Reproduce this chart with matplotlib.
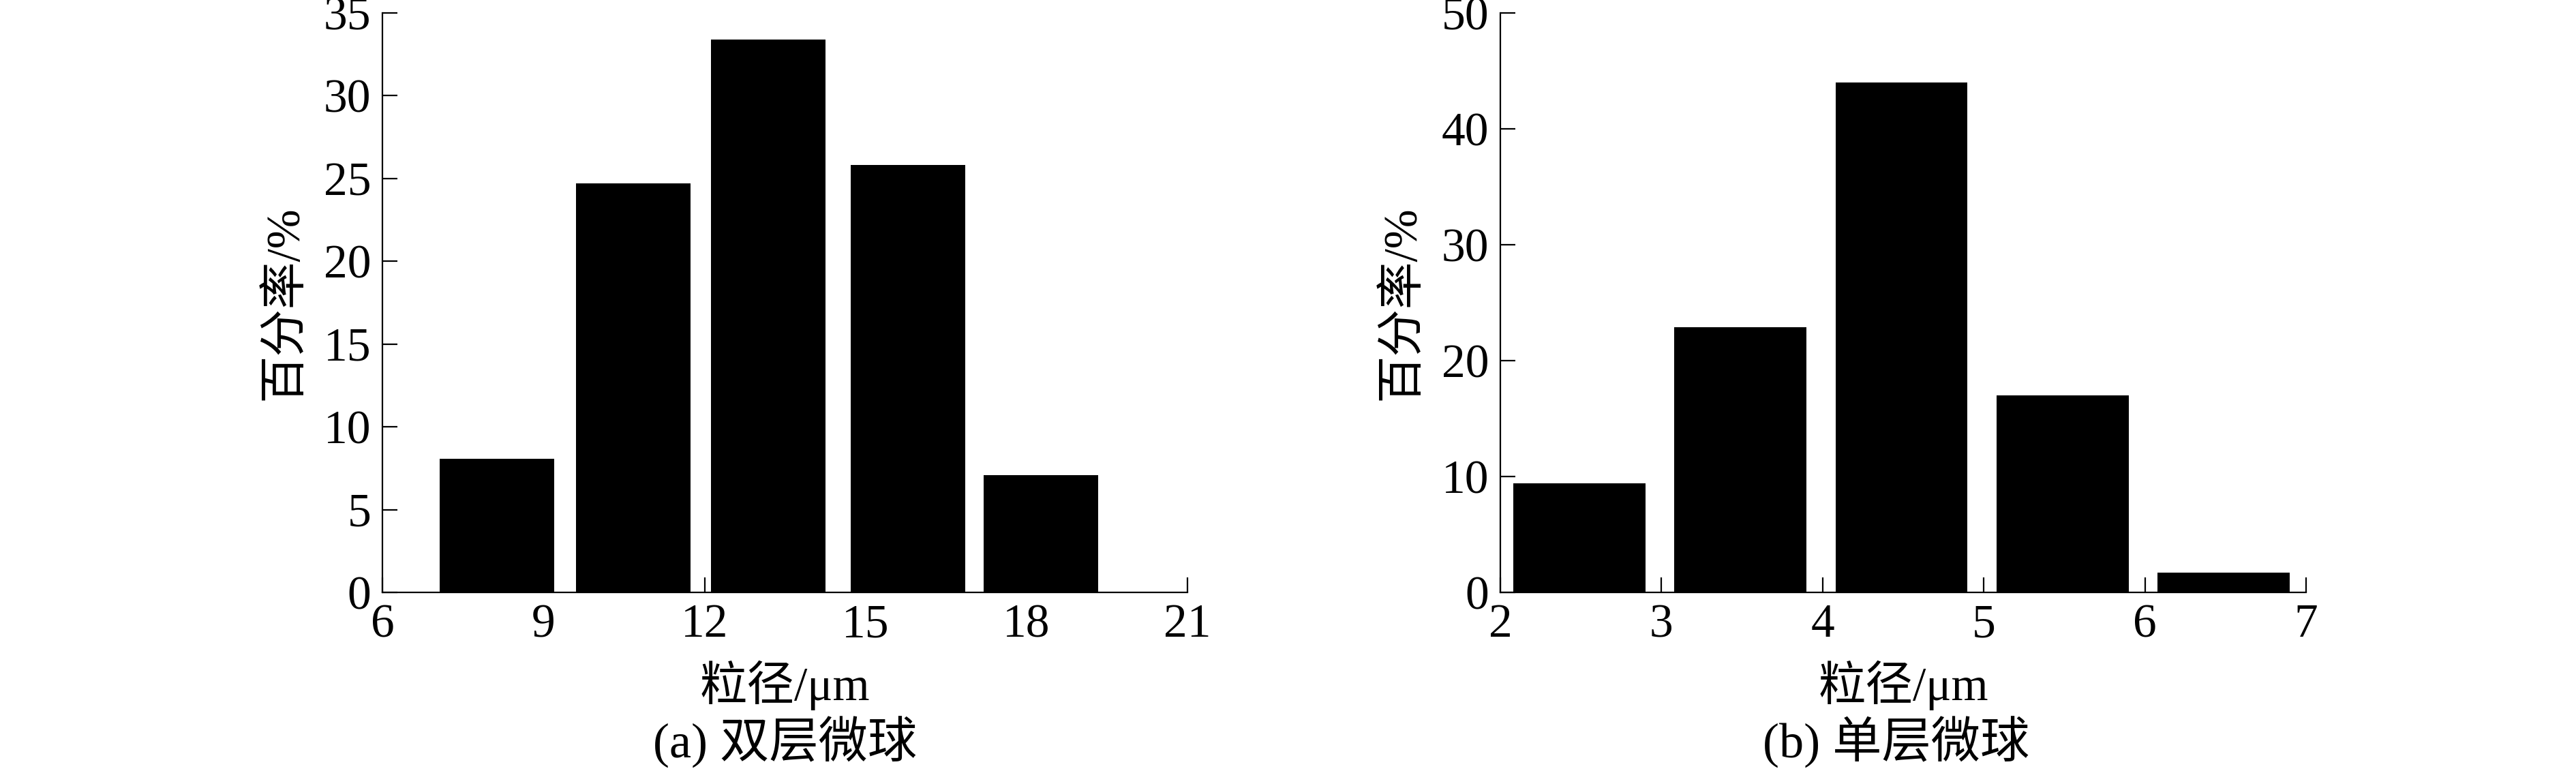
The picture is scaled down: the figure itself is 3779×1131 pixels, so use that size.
import numpy as np
import matplotlib
matplotlib.use('Agg')
import matplotlib.pyplot as plt

# Fontes: Times para números, CJK como reserva
plt.rcParams['font.family'] = ['Liberation Serif', 'Noto Sans CJK SC']
plt.rcParams['axes.unicode_minus'] = False

# Dados (a) 双层微球
centros_a = [8.13, 10.67, 13.19, 15.79, 18.27]
valores_a = [8.05, 24.7, 33.4, 25.8, 7.1]
largura_a = 2.13
ticks_x_a = [6, 9, 12, 15, 18, 21]
ticks_y_a = [0, 5, 10, 15, 20, 25, 30, 35]

# Dados (b) 单层微球
centros_b = [2.49, 3.49, 4.49, 5.49, 6.49]
valores_b = [9.4, 22.9, 44.0, 17.0, 1.7]
largura_b = 0.82
ticks_x_b = [2, 3, 4, 5, 6, 7]
ticks_y_b = [0, 10, 20, 30, 40, 50]

rotulo_x = '粒径/μm'
rotulo_y = '百分率/%'
legendas = ['(a) 双层微球', '(b) 单层微球']

fig = plt.figure(figsize=(37.79, 11.31), dpi=100)

ax1 = fig.add_axes([0.1485, 0.2317, 0.3125, 0.7515])
ax2 = fig.add_axes([0.5824, 0.2317, 0.3128, 0.7515])

config = [
    (ax1, centros_a, valores_a, largura_a, ticks_x_a, ticks_y_a),
    (ax2, centros_b, valores_b, largura_b, ticks_x_b, ticks_y_b),
]

for ax, centros, valores, largura, tx, ty in config:
    ax.bar(centros, valores, width=largura, color='black', zorder=3)
    ax.set_xlim(tx[0], tx[-1])
    ax.set_ylim(ty[0], ty[-1])
    ax.set_xticks(tx)
    ax.set_yticks(ty)
    ax.spines['top'].set_visible(False)
    ax.spines['right'].set_visible(False)
    for s in ['left', 'bottom']:
        ax.spines[s].set_linewidth(1.6)
    ax.tick_params(direction='in', length=16, width=1.6, labelsize=50, pad=12)
    ax.set_xlabel(rotulo_x, fontsize=50, labelpad=14)
    ax.set_ylabel(rotulo_y, fontsize=50)
    ax.yaxis.set_label_coords(-0.094, 0.5)

# Legendas abaixo de cada gráfico
fig.text(0.3047, 0.037, legendas[0], fontsize=52, ha='center', va='center')
fig.text(0.7360, 0.037, legendas[1], fontsize=52, ha='center', va='center')

fig.savefig('out.png', dpi=100)
